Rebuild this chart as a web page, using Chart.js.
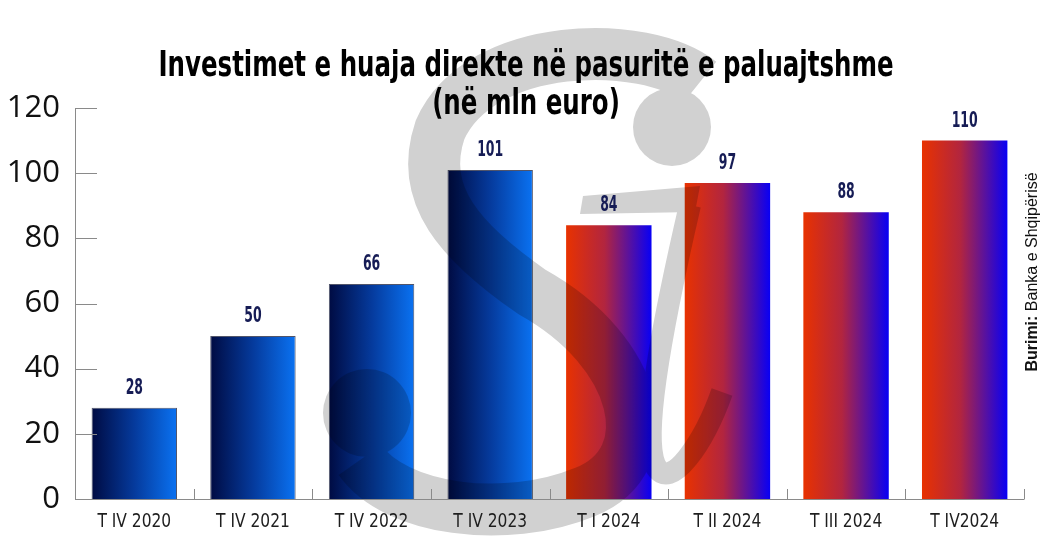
<!DOCTYPE html>
<html>
<head>
<meta charset="utf-8">
<script src="https://cdn.jsdelivr.net/npm/chart.js@4/dist/chart.umd.min.js"></script>
<style>
  body { margin: 0; background: #fff; }
  #wrap { width: 1053px; height: 550px; position: relative; }
</style>
</head>
<body>
<div id="wrap"><canvas id="chartIHD"></canvas></div>
<script>
// Investimet e huaja direkte ne pasurite e paluajtshme
const kategorite = ['T IV 2020', 'T IV 2021', 'T IV 2022', 'T IV 2023', 'T I 2024', 'T II 2024', 'T III 2024', 'T IV2024']
const vlerat = [28, 50, 66, 101, 84, 97, 88, 110]
const vjetore = [true, true, true, true, false, false, false, false] // shtyllat blu = fund viti
const titulli = ['Investimet e huaja direkte në pasuritë e paluajtshme', '(në mln euro)']
const burimi = ['Burimi:', ' Banka e Shqipërisë']

const narrow = '"DejaVu Sans Condensed", "Liberation Sans", sans-serif'
const bpct = 0.72

function ngjyra(ctx) {
  const chart = ctx.chart
  const xs = chart.scales.x
  if (!xs || !chart.chartArea) return vjetore[ctx.dataIndex] ? '#0040a0' : '#b2253f'
  const cx = xs.getPixelForValue(ctx.dataIndex)
  const half = (chart.chartArea.right - chart.chartArea.left) / kategorite.length * bpct / 2
  if (!Number.isFinite(cx) || !Number.isFinite(half)) return '#0040a0'
  const g = chart.ctx.createLinearGradient(cx - half, 0, cx + half, 0)
  if (vjetore[ctx.dataIndex]) {
    g.addColorStop(0, '#000b42')
    g.addColorStop(0.5, '#053a9c')
    g.addColorStop(1, '#0a72f2')
  } else {
    g.addColorStop(0, '#e83200')
    g.addColorStop(0.45, '#b2253f')
    g.addColorStop(1, '#0800f5')
  }
  return g
}

// tekst i ngushtuar horizontalisht
function shkruaj(c, txt, x, y, sx) {
  c.save()
  c.translate(x, y)
  c.scale(sx, 1)
  c.fillText(txt, 0, 0)
  c.restore()
}

// logo ne sfond (gri e tejdukshme mbi shtylla)
const logoPlugin = {
  id: 'logo',
  afterDatasetsDraw(chart) {
    const off = document.createElement('canvas')
    off.width = chart.width
    off.height = chart.height
    const c = off.getContext('2d')
    c.strokeStyle = '#000'
    c.fillStyle = '#000'
    c.lineCap = 'butt'
    c.lineWidth = 52
    c.beginPath()
    c.moveTo(700, 82)
    c.bezierCurveTo(645, 38, 480, 40, 440, 130)
    c.bezierCurveTo(418, 195, 460, 242, 532, 292)
    c.bezierCurveTo(640, 352, 665, 460, 585, 492)
    c.bezierCurveTo(505, 525, 395, 510, 360, 460)
    c.stroke()
    c.beginPath()
    c.arc(367, 413, 44, 0, Math.PI * 2)
    c.fill()
    // pika
    c.beginPath()
    c.arc(672, 127, 39, 0, Math.PI * 2)
    c.fill()
    // shkopi
    c.beginPath()
    c.moveTo(583, 196); c.lineTo(700, 186); c.lineTo(695, 212); c.lineTo(580, 214)
    c.closePath()
    c.fill()
    c.lineWidth = 22
    c.beginPath()
    c.moveTo(690, 205)
    c.bezierCurveTo(668, 300, 640, 430, 655, 465)
    c.bezierCurveTo(670, 495, 705, 440, 722, 392)
    c.stroke()

    const ctx = chart.ctx
    ctx.save()
    ctx.globalAlpha = 0.18
    ctx.drawImage(off, 0, 0, chart.width, chart.height)
    ctx.restore()
  }
}

const tekstePlugin = {
  id: 'tekste',
  afterDraw(chart) {
    const c = chart.ctx
    const area = chart.chartArea
    const ys = chart.scales.y
    const xs = chart.scales.x
    c.save()
    // boshtet
    c.strokeStyle = '#8a8a8a'
    c.lineWidth = 1
    c.beginPath()
    c.moveTo(area.left + 0.5, ys.getPixelForValue(120))
    c.lineTo(area.left + 0.5, area.bottom + 0.5)
    c.lineTo(area.right + 0.5, area.bottom + 0.5)
    ys.ticks.forEach(t => {
      const y = Math.round(ys.getPixelForValue(t.value)) + 0.5
      c.moveTo(area.left, y)
      c.lineTo(area.left + 22, y)
    })
    for (let i = 0; i <= kategorite.length; i++) {
      const x = Math.round(area.left + i * (area.right - area.left) / kategorite.length) + 0.5
      c.moveTo(x, area.bottom)
      c.lineTo(x, area.bottom - 10)
    }
    c.stroke()

    c.textAlign = 'center'

    // etiketat e kategorive
    c.fillStyle = '#1e1e1e'
    c.font = '20px ' + narrow
    c.textBaseline = 'alphabetic'
    kategorite.forEach((k, i) => {
      shkruaj(c, k, xs.getPixelForValue(i), 527, 0.86)
    })

    // vlerat mbi shtylla
    c.fillStyle = '#161c55'
    c.font = 'bold 21px ' + narrow
    chart.getDatasetMeta(0).data.forEach((bar, i) => {
      shkruaj(c, String(vlerat[i]), bar.x, bar.y - 14, 0.66)
    })

    // titulli
    c.fillStyle = '#000'
    c.font = 'bold 36px ' + narrow
    const sx = 735 / c.measureText(titulli[0]).width
    shkruaj(c, titulli[0], 526, 76, sx)
    shkruaj(c, titulli[1], 526, 114, sx)

    // burimi
    c.translate(1037, 272)
    c.rotate(-Math.PI / 2)
    c.textAlign = 'left'
    c.fillStyle = '#111'
    c.font = 'bold 16px "Liberation Sans", sans-serif'
    const w1 = c.measureText(burimi[0]).width
    c.font = '16px "Liberation Sans", sans-serif'
    const w2 = c.measureText(burimi[1]).width
    const x0 = -(w1 + w2) / 2
    c.font = 'bold 16px "Liberation Sans", sans-serif'
    c.fillText(burimi[0], x0, 0)
    c.font = '16px "Liberation Sans", sans-serif'
    c.fillText(burimi[1], x0 + w1, 0)
    c.restore()
  }
}

new Chart(document.getElementById('chartIHD'), {
  type: 'bar',
  data: {
    labels: kategorite,
    datasets: [{
      data: vlerat,
      backgroundColor: ngjyra,
      borderColor: vjetore.map(v => v ? 'rgba(50,55,80,0.85)' : 'rgba(0,0,0,0)'),
      borderWidth: vjetore.map(v => v ? 1 : 0),
      barPercentage: bpct,
      categoryPercentage: 1
    }]
  },
  options: {
    responsive: true,
    maintainAspectRatio: false,
    animation: false,
    layout: { padding: { top: 108, right: 29, left: 0, bottom: 0 } },
    plugins: {
      legend: { display: false },
      tooltip: { enabled: false }
    },
    scales: {
      x: {
        grid: { display: false, drawTicks: false },
        border: { display: false },
        ticks: { display: false },
        afterFit(s) { s.height = 51 }
      },
      y: {
        min: 0,
        max: 120,
        grid: { display: false, drawTicks: false },
        border: { display: false },
        ticks: { stepSize: 20, color: '#111', font: { family: '"Open Sans", sans-serif', size: 31 }, padding: 15 },
        afterFit(s) { s.width = 75 }
      }
    }
  },
  plugins: [logoPlugin, tekstePlugin]
})
</script>
</body>
</html>
